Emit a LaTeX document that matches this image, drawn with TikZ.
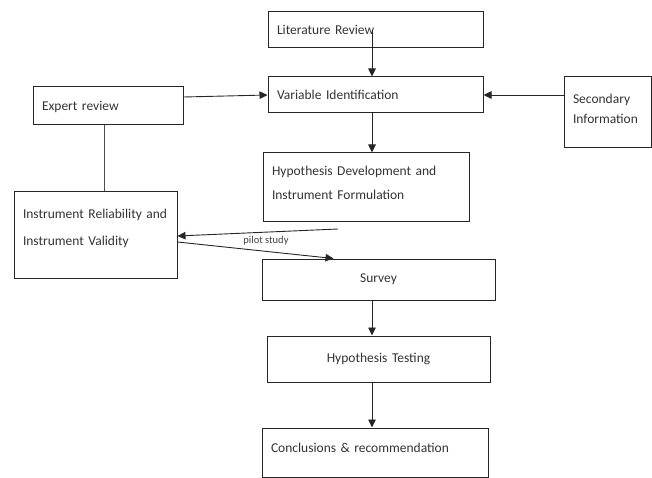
\documentclass[tikz,border=0pt]{standalone}
\usepackage{fontspec}
\setmainfont{Carlito}
\usetikzlibrary{arrows.meta,positioning}

\begin{document}
\begin{tikzpicture}[x=1pt,y=-1pt,
  box/.style={rectangle,draw=black!85,line width=1pt,inner xsep=9pt,inner ysep=0pt,
              align=left,font=\fontsize{13.5}{24}\selectfont,text=black!80},
  cbox/.style={box,align=center},
  arrow/.style={-{Triangle[length=8pt,width=7.5pt]},line width=0.9pt,draw=black!85}]

\useasboundingbox (0,0) rectangle (652,478);

\node[box,text width=197,minimum height=36,text depth=0pt] (lit) at (375.5,30) {Literature Review};
\node[box,text width=197,minimum height=36] (var) at (375.5,95) {Variable Identification};
\node[box,text width=132,minimum height=38,text depth=0pt] (expert) at (108,106) {Expert review};
\node[box,text width=69,minimum height=71,text depth=27pt,font=\fontsize{13.5}{20}\selectfont]
  (sec) at (607.5,112.5) {Secondary\\Information};
\node[box,text width=188,minimum height=68,text depth=33pt] (hyp) at (366,187)
  {Hypothesis Development and\\Instrument Formulation};
\node[box,text width=145,minimum height=86,text depth=42pt,font=\fontsize{13.5}{27}\selectfont]
  (inst) at (95.5,235) {Instrument Reliability and\\Instrument Validity};
\node[cbox,text width=215,minimum height=41] (survey) at (378.5,279.5) {Survey};
\node[cbox,text width=205,minimum height=46] (test) at (378.5,359) {Hypothesis Testing};
\node[box,text width=208,minimum height=49,text depth=9pt] (concl) at (375,452.5)
  {Conclusions \& recommendation};

\coordinate (axis) at (372,0);
\coordinate (pilot) at (338,229);

\draw[arrow] (lit.center -| axis) -- (var.north -| axis);
\draw[arrow] (var.south -| axis) -- (hyp.north -| axis);
\draw[arrow] ([yshift=9]expert.east) -- (var.west);
\draw[arrow] (sec.west |- var.east) -- (var.east);
\draw[line width=0.9pt,black!70] (expert.south -| 104,0) -- (inst.north -| 104,0);
\draw[arrow] (pilot) -- ([yshift=-1]inst.east);
\draw[arrow] ([yshift=-7]inst.east) -- ([xshift=-45]survey.north);
\draw[arrow] (survey.south -| axis) -- (test.north -| axis);
\draw[arrow] (test.south -| axis) -- (concl.north -| axis);

\node[font=\fontsize{10.5}{12}\selectfont,text=black!75] (pilotlbl) at (266,241) {pilot study};
\end{tikzpicture}
\end{document}
